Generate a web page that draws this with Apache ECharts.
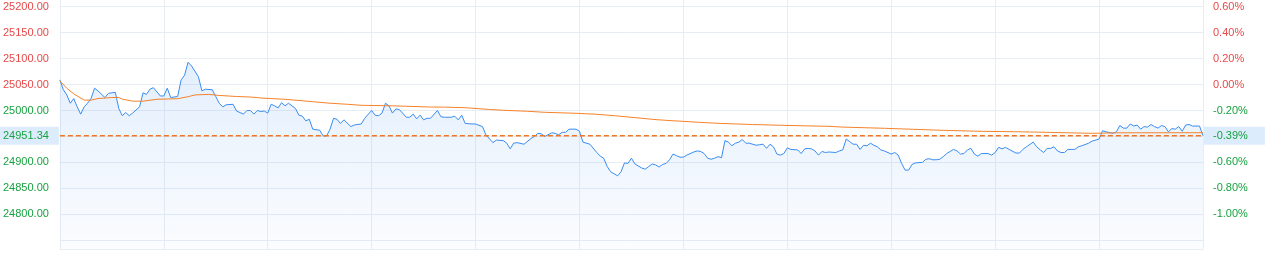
<!DOCTYPE html>
<html>
<head>
<meta charset="utf-8">
<script src="https://cdn.jsdelivr.net/npm/echarts@6/dist/echarts.min.js"></script>
<style>
html,body{margin:0;padding:0;background:#fff;}
#chart{width:1269px;height:255px;}
</style>
</head>
<body>
<div id="chart"></div>
<script>
// ---- data (minutes from session open, 0..330) ----
const preClose = 25050;
const lastPrice = 24951.34;
const sessionMinutes = 330;

const priceMinutes = [0,1,2,3,4,5,6,7,8,9,10,11,13,14,16,17,18,19,20,21,23,24,25,26,27,29,30,31,32,34,35,36,37,38,40,41,42,44,45,46,47,48,50,51,53,54,55,56,57,58,59,60,61,62,63,64,65,66,68,69,70,71,72,73,75,76,77,78,79,80,81,82,84,85,87,88,90,91,92,93,94,95,96,97,98,100,101,102,103,104,105,106,107,109,110,111,113,114,115,116,117,119,120,122,123,125,126,128,129,130,131,132,134,136,137,138,139,140,142,143,144,145,146,147,149,150,151,153,155,156,157,158,159,161,162,163,164,165,166,168,169,170,171,172,173,174,175,176,177,178,179,180,181,183,184,185,186,187,188,189,190,191,192,193,194,195,196,197,198,199,201,202,203,204,205,206,207,208,209,210,211,213,214,215,216,217,218,219,220,221,222,224,225,226,227,228,229,230,231,232,233,234,235,236,237,238,240,241,242,243,244,245,246,247,249,250,251,252,253,254,255,256,258,259,260,261,262,263,264,265,266,268,269,270,271,272,273,274,276,277,278,279,281,282,283,284,285,286,287,288,289,290,291,293,294,295,297,298,300,301,302,304,305,306,307,308,309,310,311,312,313,314,315,316,317,318,319,320,321,322,323,324,325,326,327,329,330];
const priceValues = [25059,25040,25030,25014,25023,25007,24993,25007,25014,25023,25043,25038,25025,25033,25035,25004,24990,24996,24990,24995,25007,25034,25031,25041,25044,25028,25028,25043,25025,25027,25059,25068,25093,25086,25065,25038,25041,25040,25027,25014,25007,25011,25012,24999,24993,25000,25000,24993,25000,24998,24999,24995,25012,25009,25005,25015,25009,25014,25004,24991,24989,24980,24983,24964,24962,24951,24951,24964,24985,24983,24975,24982,24969,24972,24974,24985,25000,24991,24990,24995,25014,25009,24995,25003,25002,24987,24987,24993,24984,24991,24982,24985,24985,25000,24988,24987,24987,24989,24982,24991,24975,24974,24974,24969,24953,24938,24943,24942,24937,24926,24937,24938,24935,24946,24950,24956,24955,24950,24957,24956,24953,24958,24958,24964,24964,24960,24939,24935,24919,24912,24908,24892,24882,24874,24882,24899,24898,24908,24897,24889,24887,24892,24897,24895,24891,24896,24898,24905,24916,24913,24910,24910,24914,24920,24922,24921,24917,24908,24906,24908,24911,24909,24942,24939,24932,24937,24939,24944,24937,24937,24933,24934,24935,24927,24935,24930,24916,24914,24917,24928,24925,24924,24917,24926,24927,24926,24922,24914,24921,24919,24920,24919,24922,24924,24945,24940,24935,24935,24925,24933,24932,24937,24933,24930,24924,24922,24916,24919,24914,24898,24885,24885,24896,24899,24900,24906,24907,24905,24905,24906,24911,24917,24925,24922,24916,24917,24924,24927,24916,24912,24917,24917,24914,24919,24929,24926,24929,24925,24918,24918,24925,24930,24939,24930,24924,24919,24927,24927,24930,24922,24919,24919,24925,24925,24930,24932,24937,24941,24945,24961,24959,24956,24959,24971,24966,24966,24974,24970,24972,24964,24969,24968,24973,24969,24966,24971,24969,24959,24965,24964,24969,24960,24972,24973,24970,24970,24951.34];

const avgMinutes = [0,2,4,5,7,9,11,15,17,18,21,24,28,34,37,39,43,46,51,55,57,58,65,73,78,83,87,96,107,111,117,124,128,135,140,149,155,160,164,168,171,175,180,185,191,200,208,218,222,226,238,246,254,265,276,280,298,305,330];
const avgValues = [25057,25043,25032,25028,25020,25020,25023,25025,25025,25022,25018,25018,25021.6,25022.7,25026.6,25030,25031,25029,25027,25026,25025,25024,25021.6,25017,25014,25012,25010,25009,25006.7,25006.5,25005.4,25002,25000.4,24998.5,24996.5,24994.6,24992.7,24990,24987.5,24985,24983,24981,24979,24977,24975,24973,24971.5,24970,24969.5,24968,24965.7,24963.8,24962,24960,24959,24958.6,24956,24957,24957.2];

const yMin = 24733, yMax = 25213;
const leftTickValues = [24800,24850,24900,25000,25050,25100,25150,25200];
const gridTickValues = [24750,24800,24850,24900,24950,25000,25050,25100,25150,25200];

// ---- build ----
const RED = '#e84848', GREEN = '#17a23f';
const FONT = 'Arial, "Liberation Sans", sans-serif';
const DASH_COLOR = '#f27520';
const pricePairs = priceMinutes.map((m, i) => [m, priceValues[i]]);
const avgPairs = avgMinutes.map((m, i) => [m, avgValues[i]]);
const lastPairs = [[0, lastPrice], [sessionMinutes, lastPrice]];
const pct = v => ((v / preClose - 1) * 100).toFixed(2) + '%';
const colorOf = v => (v >= preClose ? RED : GREEN);
const hiddenLine = {width: 0, color: 'rgba(0,0,0,0)'};

const chart = echarts.init(document.getElementById('chart'), null, {renderer: 'canvas'});
chart.setOption({
  animation: false,
  backgroundColor: '#fff',
  grid: {left: 59, right: 66, top: 0, bottom: 6, containLabel: false},
  xAxis: {
    type: 'value', min: 0, max: sessionMinutes, interval: 30,
    axisLine: {show: true, lineStyle: {color: '#e8edf4', width: 1}},
    axisTick: {show: false}, axisLabel: {show: false},
    splitLine: {show: true, lineStyle: {color: '#e8edf4', width: 1}}
  },
  yAxis: [{
    type: 'value', min: yMin, max: yMax, position: 'left',
    axisLine: {show: false},
    axisTick: {show: false, customValues: gridTickValues},
    axisLabel: {
      customValues: leftTickValues, margin: 11, fontSize: 11, fontFamily: FONT,
      formatter: v => v.toFixed(2),
      color: v => colorOf(v)
    },
    splitLine: {show: true, lineStyle: {color: '#e8edf4', width: 1}}
  }, {
    type: 'value', min: yMin, max: yMax, position: 'right',
    axisLine: {show: false},
    axisTick: {show: false, customValues: gridTickValues},
    axisLabel: {
      customValues: leftTickValues, margin: 10, fontSize: 11, fontFamily: FONT,
      formatter: v => pct(v),
      color: v => colorOf(v)
    },
    splitLine: {show: false}
  }],
  series: [{
    name: 'price', type: 'line', data: pricePairs, showSymbol: false, symbol: 'none',
    lineStyle: {color: '#3a8cf0', width: 1}, itemStyle: {color: '#3a8cf0'},
    areaStyle: {
      origin: 'start',
      color: new echarts.graphic.LinearGradient(0, 0, 0, 1, [
        {offset: 0, color: 'rgba(58,140,240,0.2)'},
        {offset: 1, color: 'rgba(58,140,240,0.03)'}
      ])
    },
    z: 3
  }, {
    name: 'avg', type: 'line', data: avgPairs, showSymbol: false, symbol: 'none',
    lineStyle: {color: '#f5822a', width: 1}, itemStyle: {color: '#f5822a'}, z: 4
  }, {
    name: 'last', type: 'line', data: lastPairs, showSymbol: false, symbol: 'none',
    lineStyle: {color: DASH_COLOR, width: 1.4, type: [5, 3]}, itemStyle: {color: DASH_COLOR}, z: 5,
    markLine: {
      silent: true, symbol: 'none', animation: false,
      lineStyle: hiddenLine,
      data: [{
        yAxis: lastPrice,
        lineStyle: hiddenLine,
        label: {
          show: true, position: 'start', distance: 1, formatter: () => lastPrice.toFixed(2),
          color: GREEN, fontSize: 11, fontFamily: FONT, backgroundColor: '#dcecfc',
          padding: [4, 10, 3, 4], lineHeight: 11, opacity: 1
        }
      }, {
        yAxis: lastPrice,
        lineStyle: hiddenLine,
        label: {
          show: true, position: 'end', distance: 1, formatter: () => pct(lastPrice),
          color: GREEN, fontSize: 11, fontFamily: FONT, backgroundColor: '#dcecfc',
          padding: [4, 17, 3, 9], lineHeight: 11, opacity: 1
        }
      }]
    }
  }]
});
</script>
</body>
</html>
